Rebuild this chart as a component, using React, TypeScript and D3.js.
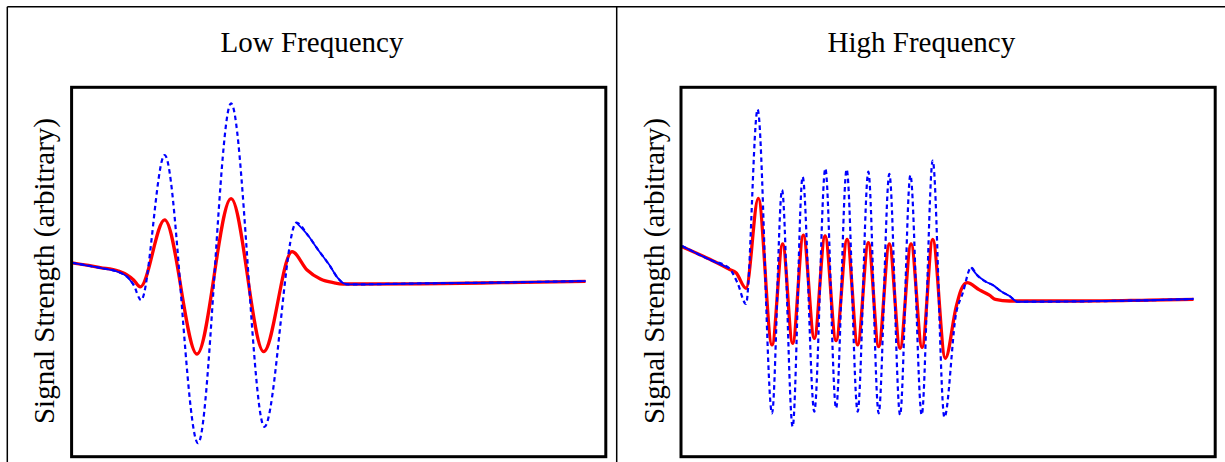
import React, { useEffect, useRef } from 'react';
import * as d3 from 'd3';

const WIDTH = 1225;
const HEIGHT = 462;

// frame + panel geometry (px)
const FRAME_LEFT = 7.3;
const FRAME_TOP = 6.7;
const DIVIDER = 616.7;
const BOX_OFFSET = 64.3;
const BOX_TOP = 87.3;
const BOX_W = 534.2;
const BOX_H = 369.4;

const FONT = '"Liberation Serif", "Times New Roman", Times, serif';

// time axis is 0..100 (arbitrary), signal is -1..1 (arbitrary)
const lowBlueX = [0.07, 5.37, 8.75, 10.37, 11.61, 13.0, 17.42, 23.67, 29.85, 36.09, 42.08, 44.2, 46.2, 48.2, 49.9, 50.94, 51.82, 65.3, 80.28, 96.2];
const lowBlueY = [0.05, 0.022, 0.0, -0.025, -0.07, -0.152, 0.633, -0.927, 0.913, -0.838, 0.267, 0.2, 0.118, 0.04, -0.035, -0.062, -0.067, -0.062, -0.057, -0.049];

const lowRedX = [0.07, 5.37, 8.75, 10.37, 11.61, 12.87, 17.42, 23.48, 29.85, 35.96, 41.27, 44.08, 46.57, 49.06, 50.88, 65.3, 80.28, 96.2];
const lowRedY = [0.049, 0.024, 0.005, -0.016, -0.043, -0.08, 0.282, -0.444, 0.397, -0.431, 0.11, 0.011, -0.038, -0.058, -0.065, -0.064, -0.058, -0.051];

const highBlueX = [0.19, 5.3, 9.04, 10.6, 12.17, 14.34, 17.04, 18.91, 20.9, 22.77, 24.96, 27.02, 29.03, 31.01, 33.07, 35.07, 37.0, 39.0, 41.01, 42.94, 45.06, 47.12, 49.31, 51.5, 52.73, 54.31, 55.4, 57.08, 58.4, 59.98, 61.5, 62.98, 74.6, 87.7, 95.94];
const highBlueY = [0.141, 0.068, 0.02, -0.061, -0.173, 0.881, -0.765, 0.444, -0.838, 0.516, -0.756, 0.561, -0.738, 0.556, -0.756, 0.543, -0.765, 0.531, -0.774, 0.525, -0.774, 0.603, -0.787, -0.224, -0.115, 0.025, -0.016, -0.053, -0.071, -0.106, -0.13, -0.161, -0.159, -0.153, -0.146];

const highRedX = [0.19, 5.3, 9.04, 10.3, 12.17, 14.47, 17.04, 19.03, 20.9, 22.9, 24.96, 26.97, 29.03, 31.09, 33.07, 35.07, 37.0, 39.0, 41.01, 43.07, 45.13, 47.12, 49.49, 51.5, 52.43, 53.56, 55.86, 57.73, 58.86, 61.48, 74.6, 87.7, 95.94];
const highRedY = [0.137, 0.07, 0.015, -0.004, -0.088, 0.399, -0.395, 0.152, -0.386, 0.2, -0.359, 0.195, -0.372, 0.177, -0.395, 0.159, -0.404, 0.152, -0.413, 0.152, -0.408, 0.177, -0.467, -0.19, -0.097, -0.058, -0.097, -0.125, -0.148, -0.157, -0.157, -0.152, -0.148];

const panels = [
  { title: 'Low Frequency', left: FRAME_LEFT, blue: [lowBlueX, lowBlueY], red: [lowRedX, lowRedY] },
  { title: 'High Frequency', left: DIVIDER, blue: [highBlueX, highBlueY], red: [highRedX, highRedY] },
];

const zip = (xs: number[], ys: number[]) => xs.map((x, i) => [x, ys[i]] as [number, number]);

// runs of consecutive points where the pixel slope is gentle
const flatRuns = (pts: [number, number][], limit: number) => {
  const runs: [number, number][][] = [];
  let cur: [number, number][] = [];
  for (let i = 0; i < pts.length - 1; i++) {
    const [x0, y0] = pts[i];
    const [x1, y1] = pts[i + 1];
    if (Math.abs((y1 - y0) / (x1 - x0)) < limit) {
      if (!cur.length) cur.push(pts[i]);
      cur.push(pts[i + 1]);
    } else if (cur.length) {
      runs.push(cur);
      cur = [];
    }
  }
  if (cur.length) runs.push(cur);
  return runs;
};

export default function App() {
  const ref = useRef<SVGSVGElement>(null);

  useEffect(() => {
    const svg = d3.select(ref.current);
    svg.selectAll('*').remove();

    // outer frame
    const frame = svg.append('g').attr('stroke', '#000').attr('stroke-width', 1.5);
    frame.append('line').attr('x1', FRAME_LEFT).attr('x2', WIDTH).attr('y1', FRAME_TOP).attr('y2', FRAME_TOP);
    frame.append('line').attr('x1', FRAME_LEFT).attr('x2', FRAME_LEFT).attr('y1', FRAME_TOP).attr('y2', HEIGHT);
    frame.append('line').attr('x1', DIVIDER).attr('x2', DIVIDER).attr('y1', FRAME_TOP).attr('y2', HEIGHT);

    panels.forEach(p => {
      const boxLeft = p.left + BOX_OFFSET;
      const x = d3.scaleLinear().domain([0, 100]).range([boxLeft, boxLeft + BOX_W]);
      const y = d3.scaleLinear().domain([-1, 1]).range([BOX_TOP + BOX_H, BOX_TOP]);

      const g = svg.append('g');

      g.append('text')
        .attr('x', p.left + (DIVIDER - FRAME_LEFT) / 2)
        .attr('y', 52)
        .attr('text-anchor', 'middle')
        .attr('font-family', FONT)
        .attr('font-size', 29)
        .text(p.title);

      g.append('text')
        .attr('transform', `translate(${p.left + 47}, ${BOX_TOP + BOX_H / 2 - 1}) rotate(-90)`)
        .attr('text-anchor', 'middle')
        .attr('font-family', FONT)
        .attr('font-size', 29)
        .text('Signal Strength (arbitrary)');

      const line = d3.line<[number, number]>()
        .x(d => d[0])
        .y(d => d[1])
        .curve(d3.curveMonotoneX);

      const redPts = zip(p.red[0], p.red[1]).map(d => [x(d[0]), y(d[1])] as [number, number]);
      const bluePts = zip(p.blue[0], p.blue[1]).map(d => [x(d[0]), y(d[1])] as [number, number]);

      g.append('path')
        .attr('d', line(redPts))
        .attr('fill', 'none')
        .attr('stroke', '#ff0000')
        .attr('stroke-width', 3.3)
        .attr('stroke-linejoin', 'round');

      g.append('path')
        .attr('d', line(bluePts))
        .attr('fill', 'none')
        .attr('stroke', '#0000ff')
        .attr('stroke-width', 2.2)
        .attr('stroke-dasharray', '4.5 3.5');

      flatRuns(bluePts, 1.6).forEach(run => {
        g.append('path')
          .attr('d', line(run))
          .attr('fill', 'none')
          .attr('stroke', '#0000ff')
          .attr('stroke-width', 1.8);
      });

      g.append('rect')
        .attr('x', boxLeft)
        .attr('y', BOX_TOP)
        .attr('width', BOX_W)
        .attr('height', BOX_H)
        .attr('fill', 'none')
        .attr('stroke', '#000')
        .attr('stroke-width', 3);
    });
  }, []);

  return (
    <svg
      ref={ref}
      width={WIDTH}
      height={HEIGHT}
      viewBox={`0 0 ${WIDTH} ${HEIGHT}`}
      style={{ position: 'absolute', left: 0, top: 0, background: '#fff' }}
    />
  );
}
